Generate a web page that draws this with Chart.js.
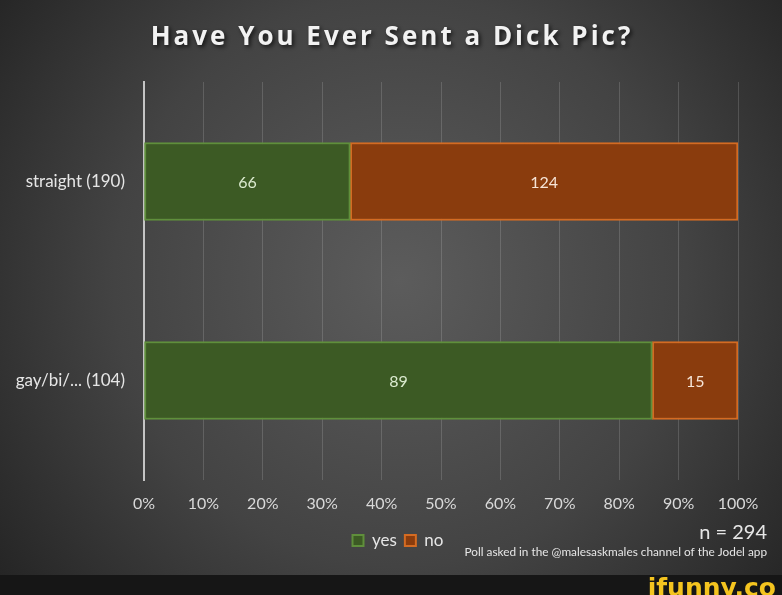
<!DOCTYPE html>
<html>
<head>
<meta charset="utf-8">
<script src="https://cdn.jsdelivr.net/npm/chart.js@4.4.1/dist/chart.umd.min.js"></script>
<style>
  html, body { margin: 0; padding: 0; background: #262626; }
  canvas { display: block; }
</style>
</head>
<body>
<canvas id="chart" width="782" height="595"></canvas>
<script>
// Poll data, counts per group
const categories = ['straight (190)', 'gay/bi/... (104)'];
const yesCounts = [66, 89];
const noCounts = [124, 15];
const tickLabels = ['0%', '10%', '20%', '30%', '40%', '50%', '60%', '70%', '80%', '90%', '100%'];
const sampleNote = 'n = 294';
const sourceNote = 'Poll asked in the @malesaskmales channel of the Jodel app';

const totals = yesCounts.map((v, i) => v + noCounts[i]);

// 100% stacked: turn counts into shares of each group
function toPercent(counts) {
    return counts.map((v, i) => v / totals[i] * 100);
}

// Dark radial background, title, notes and the footer strip
const backdrop = {
    id: 'backdrop',
    afterLayout(chart) {
        // legend sits a bit right of the canvas centre in the original
        chart.legend.left += 29;
        chart.legend.right += 29;
    },
    beforeDraw(chart) {
        const ctx = chart.ctx;
        const w = chart.width, h = chart.height;
        ctx.save();
        const g = ctx.createRadialGradient(400, 280, 0, 400, 280, 520);
        g.addColorStop(0, '#5c5c5c');
        g.addColorStop(0.55, '#434343');
        g.addColorStop(1, '#222222');
        ctx.fillStyle = g;
        ctx.fillRect(0, 0, w, h);

        // title
        ctx.font = 'bold 26px "Open Sans"';
        ctx.letterSpacing = '3px';
        ctx.textAlign = 'center';
        ctx.textBaseline = 'middle';
        ctx.shadowColor = 'rgba(0,0,0,0.7)';
        ctx.shadowBlur = 4;
        ctx.shadowOffsetX = 2;
        ctx.shadowOffsetY = 2;
        ctx.fillStyle = '#f2f2f2';
        ctx.fillText('Have You Ever Sent a Dick Pic?', 392, 38);
        ctx.restore();
    },
    afterDraw(chart) {
        const ctx = chart.ctx;
        ctx.save();
        ctx.textAlign = 'right';
        ctx.textBaseline = 'middle';
        ctx.fillStyle = '#e6e6e6';
        ctx.font = '20px Lato';
        ctx.fillText(sampleNote, 767, 533);
        ctx.font = '11.8px Lato';
        ctx.fillText(sourceNote, 767, 552);

        // footer strip
        ctx.fillStyle = '#161616';
        ctx.fillRect(0, 575, chart.width, 20);
        ctx.fillStyle = '#f4c41f';
        ctx.font = 'bold 25px "DejaVu Sans"';
        ctx.textBaseline = 'alphabetic';
        ctx.fillText('ifunny.co', 776, 596);
        ctx.restore();
    }
};

// Counts written in the middle of each bar segment
const barLabels = {
    id: 'barLabels',
    afterDatasetsDraw(chart) {
        const ctx = chart.ctx;
        ctx.save();
        ctx.font = '16px Lato';
        ctx.textAlign = 'center';
        ctx.textBaseline = 'middle';
        chart.data.datasets.forEach((ds, di) => {
            const meta = chart.getDatasetMeta(di);
            meta.data.forEach((bar, i) => {
                const p = bar.getProps(['x', 'y', 'base'], true);
                ctx.fillStyle = ds.labelColor;
                ctx.fillText(String(ds.counts[i]), (p.x + p.base) / 2, p.y + 1);
            });
        });
        ctx.restore();
    }
};

new Chart(document.getElementById('chart'), {
    type: 'bar',
    data: {
        labels: categories,
        datasets: [{
            label: 'yes',
            data: toPercent(yesCounts),
            counts: yesCounts,
            labelColor: '#dcebd0',
            backgroundColor: '#3c5a24',
            borderColor: '#5f8f3b',
            borderWidth: 2,
            borderSkipped: false,
            barThickness: 78
        }, {
            label: 'no',
            data: toPercent(noCounts),
            counts: noCounts,
            labelColor: '#f6e4d6',
            backgroundColor: '#8a3c0d',
            borderColor: '#d46b22',
            borderWidth: 2,
            borderSkipped: false,
            barThickness: 78
        }]
    },
    options: {
        indexAxis: 'y',
        responsive: false,
        animation: false,
        layout: { padding: { top: 82, right: 44, bottom: 36, left: 0 } },
        scales: {
            x: {
                stacked: true,
                min: 0,
                max: 100,
                afterFit(scale) { scale.height = 44; },
                ticks: {
                    stepSize: 10,
                    padding: 14,
                    color: '#d9d9d9',
                    font: { family: 'Lato', size: 16 },
                    callback: (v, i) => tickLabels[i]
                },
                grid: { color: 'rgba(255,255,255,0.15)', lineWidth: 1, drawTicks: false },
                border: { display: false }
            },
            y: {
                stacked: true,
                afterFit(scale) { scale.width = 144; },
                ticks: {
                    padding: 19,
                    color: '#e6e6e6',
                    font: { family: 'Lato', size: 17 }
                },
                grid: { display: false, drawTicks: false },
                border: { display: true, color: '#c4c4c4', width: 2 }
            }
        },
        plugins: {
            legend: {
                position: 'bottom',
                labels: {
                    color: '#e6e6e6',
                    font: { family: 'Lato', size: 17 },
                    boxWidth: 11,
                    boxHeight: 11,
                    padding: 8
                }
            },
            tooltip: { enabled: false },
            title: { display: false }
        }
    },
    plugins: [backdrop, barLabels]
});
</script>
</body>
</html>
